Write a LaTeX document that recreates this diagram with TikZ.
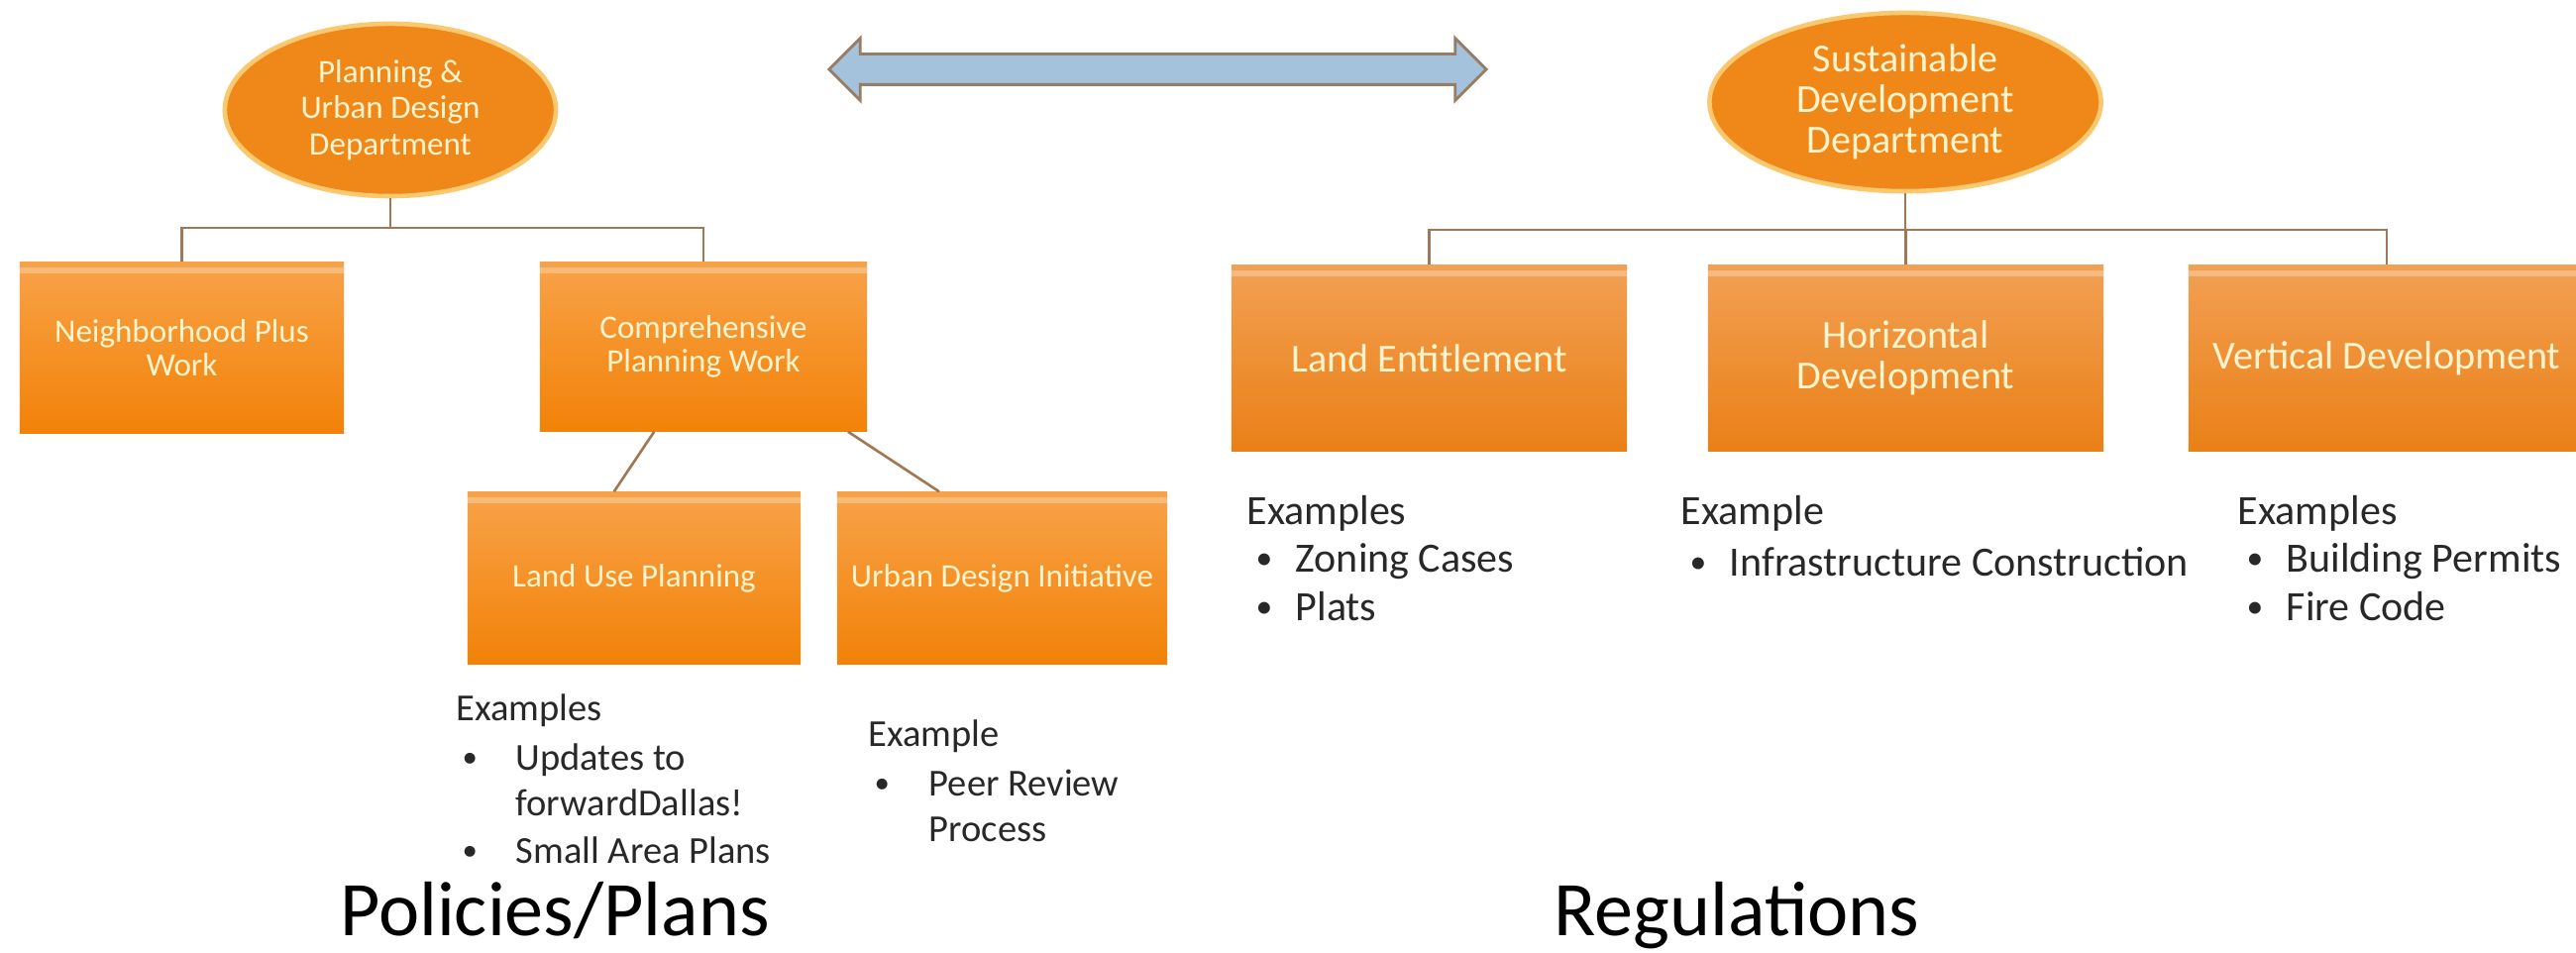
\documentclass[tikz,border=0pt]{standalone}
\usepackage{fontspec}
\usepackage{graphicx}
\setmainfont{Carlito}
\usetikzlibrary{shapes.geometric,shapes.arrows,calc}
\definecolor{boxtop}{RGB}{248,162,72}
\definecolor{boxbot}{RGB}{242,130,8}
\definecolor{rboxtop}{RGB}{242,160,84}
\definecolor{rboxbot}{RGB}{234,128,22}
\definecolor{labeltext}{RGB}{255,244,205}
\definecolor{connclr}{RGB}{160,120,85}
\definecolor{arrowfill}{RGB}{164,194,220}
\definecolor{arrowedge}{RGB}{150,125,100}
\definecolor{rimclr}{RGB}{250,200,110}
\definecolor{ellfill}{RGB}{240,135,25}
\definecolor{bodytext}{RGB}{40,40,40}
\newcommand{\lboxfont}{\fontsize{9.4}{9.6}\selectfont}
\newcommand{\rboxfont}{\fontsize{11.4}{11.6}\selectfont}
\newcommand{\lellfont}{\fontsize{9.4}{10.4}\selectfont}
\newcommand{\rellfont}{\fontsize{11.4}{11.6}\selectfont}
\newcommand{\lexfont}{\fontsize{10.95}{13}\selectfont}
\newcommand{\rexfont}{\fontsize{11.95}{13}\selectfont}
\newcommand{\titlefont}{\fontsize{22.2}{26}\selectfont}
\newcommand{\bul}[1]{\makebox[#1][l]{\raisebox{0.15ex}{\scalebox{0.8}{•}}}}
\tikzset{
  stripe/.style={path picture={\fill[white,opacity=0.28]
      ([yshift=-0.05cm]path picture bounding box.north west) rectangle
      ([yshift=-0.11cm]path picture bounding box.north east);}},
  lbox/.style={rectangle, inner sep=0pt, align=center, text=labeltext,
      top color=boxtop, bottom color=boxbot, stripe, font=\lboxfont},
  rbox/.style={rectangle, inner sep=0pt, align=center, text=labeltext,
      top color=rboxtop, bottom color=rboxbot, stripe, font=\rboxfont},
  dept/.style={ellipse, inner sep=0pt, align=center, text=labeltext,
      fill=ellfill, draw=rimclr, line width=1.3pt},
  conn/.style={draw=connclr, line width=0.75pt},
  lex/.style={anchor=west, inner sep=0pt, text=bodytext, font=\lexfont},
  rex/.style={anchor=west, inner sep=0pt, text=bodytext, font=\rexfont},
  title/.style={anchor=base, inner sep=0pt, text=black, font=\titlefont}
}
\begin{document}
\begin{tikzpicture}[x=0.01cm,y=-0.01cm]
\useasboundingbox (0,0) rectangle (2600,962);
\clip (0,0) rectangle (2600,962);
\fill[white] (0,0) rectangle (2600,962);

% departments
\node[dept, minimum width=3.34cm, minimum height=1.74cm, font=\lellfont] (pud) at (394,111) {Planning \&\\Urban Design\\Department};
\node[dept, minimum width=3.95cm, minimum height=1.80cm, font=\rellfont] (sdd) at (1923,103) {Sustainable\\Development\\Department};

% double arrow between departments
\node[double arrow, draw=arrowedge, fill=arrowfill, line width=0.8pt,
      minimum height=6.63cm, inner sep=0.14cm, double arrow head extend=0.16cm] (link) at (1168.5,70) {};

% left boxes
\node[lbox, minimum width=3.27cm, minimum height=1.72cm] (nbh) at (183.5,351) {Neighborhood Plus\\Work};
\node[lbox, minimum width=3.30cm, minimum height=1.70cm] (cpw) at (710,350) {Comprehensive\\Planning Work};
\node[lbox, minimum width=3.36cm, minimum height=1.73cm] (lup) at (640,583.5) {Land Use Planning};
\node[lbox, minimum width=3.33cm, minimum height=1.73cm] (udi) at (1011.5,583.5) {Urban Design Initiative};

% right boxes
\node[rbox, minimum width=3.99cm, minimum height=1.87cm] (lent) at (1442.5,361.5) {Land Entitlement};
\node[rbox, minimum width=3.99cm, minimum height=1.87cm] (hdev) at (1923.5,361.5) {Horizontal\\Development};
\node[rbox, minimum width=4.00cm, minimum height=1.87cm] (vdev) at (2409,361.5) {Vertical Development};

% connectors left
\coordinate (pbar) at (394,230);
\draw[conn] (pud.south) -- (pbar);
\draw[conn] (nbh.north) |- (pbar) -| (cpw.north);
\coordinate (cpa) at ($(cpw.south west)!0.35!(cpw.south east)$);
\coordinate (cpb) at ($(cpw.south west)!0.94!(cpw.south east)$);
\coordinate (lua) at ($(lup.north west)!0.44!(lup.north east)$);
\coordinate (uda) at ($(udi.north west)!0.31!(udi.north east)$);
\draw[conn] (cpa) -- (lua);
\draw[conn] (cpb) -- (uda);

% connectors right
\coordinate (sbar) at (1923,232);
\draw[conn] (sdd.south) -- (sbar);
\draw[conn] (lent.north) |- (sbar) -| (vdev.north);
\draw[conn] (sbar) -- (sbar -| hdev.north) -- (hdev.north);

% examples left
\node[lex] (lux0) at (460,717) {Examples};
\node[lex] (lux1) at (466,767) {\bul{0.54cm}Updates to};
\node[lex] (lux2) at (466,810) {\hspace*{0.54cm}forwardDallas!};
\node[lex] (lux3) at (466,858) {\bul{0.54cm}Small Area Plans};
\node[lex] (udx0) at (876,743) {Example};
\node[lex] (udx1) at (882,790) {\bul{0.55cm}Peer Review};
\node[lex] (udx2) at (882,837) {\hspace*{0.55cm}Process};

% examples right
\node[rex] (lex0) at (1258,518) {Examples};
\node[rex] (lex1) at (1267,567) {\bul{0.40cm}Zoning Cases};
\node[rex] (lex2) at (1267,612) {\bul{0.40cm}Plats};
\node[rex] (hdx0) at (1696,518) {Example};
\node[rex] (hdx1) at (1705,567) {\bul{0.40cm}Infrastructure Construction};
\node[rex] (vdx0) at (2258,518) {Examples};
\node[rex] (vdx1) at (2267,567) {\bul{0.40cm}Building Permits};
\node[rex] (vdx2) at (2267,612) {\bul{0.40cm}Fire Code};

% titles
\node[title] (pol) at (560,945) {Policies/Plans};
\node[title] (reg) at (1753,945) {Regulations};
\end{tikzpicture}
\end{document}
